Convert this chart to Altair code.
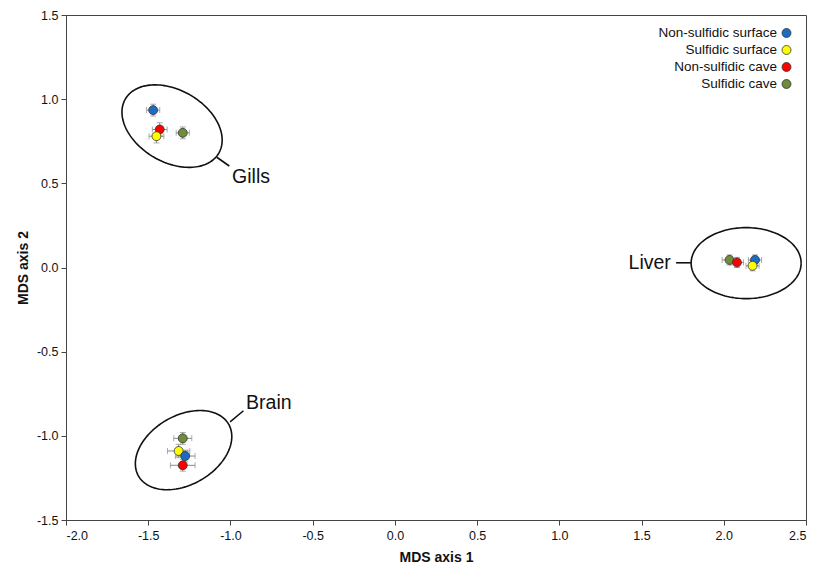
import altair as alt
import numpy as np
import pandas as pd

# ---------------- data ----------------
populations = ["Non-sulfidic surface", "Sulfidic surface", "Non-sulfidic cave", "Sulfidic cave"]
pop_colors = ["#1d6cc3", "#ffff00", "#ff0000", "#6f8c3b"]

tissue = ["Gills"] * 4 + ["Brain"] * 4 + ["Liver"] * 4
population = [
    "Non-sulfidic surface", "Sulfidic cave", "Non-sulfidic cave", "Sulfidic surface",
    "Sulfidic cave", "Sulfidic surface", "Non-sulfidic surface", "Non-sulfidic cave",
    "Sulfidic cave", "Non-sulfidic cave", "Non-sulfidic surface", "Sulfidic surface",
]
mds1 = [-1.47, -1.29, -1.43, -1.45,
        -1.29, -1.315, -1.275, -1.29,
        2.035, 2.08, 2.19, 2.175]
mds2 = [0.935, 0.80, 0.82, 0.78,
        -1.015, -1.09, -1.12, -1.175,
        0.045, 0.03, 0.045, 0.01]
err1 = [0.04, 0.04, 0.045, 0.045,
        0.055, 0.068, 0.06, 0.075,
        0.045, 0.04, 0.04, 0.04]
err2 = [0.035, 0.035, 0.04, 0.04,
        0.035, 0.04, 0.035, 0.035,
        0.03, 0.03, 0.03, 0.03]

# cluster ellipses: centre (data units), semi-axes (px), tilt (deg)
ell_names = ["Gills", "Brain", "Liver"]
ell_cx = [-1.355, -1.285, 2.136]
ell_cy = [0.84, -1.085, 0.026]
ell_a = [54, 52, 55]
ell_b = [36, 34.5, 35.5]
ell_tilt = [-30, 30, 0]

# labels and leader lines
lab_text = ["Gills", "Brain", "Liver"]
lab_x = [-0.99, -0.905, 1.678]
lab_y = [0.537, -0.807, 0.025]
lab_side = ["left", "left", "right"]
lead_x = [-1.083, -1.002, 1.71]
lead_y = [0.655, -0.917, 0.028]
lead_x2 = [-1.007, -0.921, 1.80]
lead_y2 = [0.603, -0.851, 0.028]

x_ticks = [-2.0, -1.5, -1.0, -0.5, 0.0, 0.5, 1.0, 1.5, 2.0, 2.5]
y_ticks = [-1.5, -1.0, -0.5, 0.0, 0.5, 1.0, 1.5]

# ---------------- layout ----------------
W, H = 740, 505
X_DOM, Y_DOM = [-2.0, 2.5], [-1.5, 1.5]
KX = W / (X_DOM[1] - X_DOM[0])
KY = H / (Y_DOM[1] - Y_DOM[0])
FONT = "Liberation Sans"

df = pd.DataFrame({"tissue": tissue, "population": population, "x": mds1, "y": mds2,
                   "ex": err1, "ey": err2})
df["xlo"] = df["x"] - df["ex"]
df["xhi"] = df["x"] + df["ex"]
df["ylo"] = df["y"] - df["ey"]
df["yhi"] = df["y"] + df["ey"]
df["ord"] = range(len(df))

rows = []
t = np.linspace(0, 2 * np.pi, 145)
for n, cx, cy, a, b, th in zip(ell_names, ell_cx, ell_cy, ell_a, ell_b, ell_tilt):
    r = np.deg2rad(th)
    dx = a * np.cos(t) * np.cos(r) - b * np.sin(t) * np.sin(r)
    dy = a * np.cos(t) * np.sin(r) + b * np.sin(t) * np.cos(r)
    for i, (u, v) in enumerate(zip(cx + dx / KX, cy + dy / KY)):
        rows.append({"name": n, "i": i, "x": float(u), "y": float(v)})
ell_df = pd.DataFrame(rows)

lab_df = pd.DataFrame({"text": lab_text, "x": lab_x, "y": lab_y, "side": lab_side})
lead_df = pd.DataFrame({"x": lead_x, "y": lead_y, "x2": lead_x2, "y2": lead_y2})
leg_df = pd.DataFrame({"population": populations})

xs = alt.Scale(domain=X_DOM, nice=False, zero=False)
ys = alt.Scale(domain=Y_DOM, nice=False, zero=False)
cs = alt.Scale(domain=populations, range=pop_colors)

LBL = "replace(format(datum.value, '.1f'), '\u2212', '-')"
xaxis = alt.Axis(values=x_ticks, labelExpr=LBL, title="MDS axis 1", grid=False,
                 tickSize=5, labelPadding=4, titlePadding=9)
yaxis = alt.Axis(values=y_ticks, labelExpr=LBL, title="MDS axis 2", grid=False,
                 tickSize=5, labelPadding=3, titlePadding=6)


def X(f):
    return alt.X(f, scale=xs, axis=xaxis)


def Y(f):
    return alt.Y(f, scale=ys, axis=yaxis)


ERR = "#8a8a8a"

ellipses = alt.Chart(ell_df).mark_line(color="#111", strokeWidth=1.6).encode(
    x=X("x:Q"), y=Y("y:Q"), detail="name:N", order="i:Q",
)

leaders = alt.Chart(lead_df).mark_rule(color="#111", strokeWidth=1.6).encode(
    x=X("x:Q"), y=Y("y:Q"), x2="x2:Q", y2="y2:Q",
)

labels_left = alt.Chart(lab_df[lab_df["side"] == "left"]).mark_text(
    align="left", baseline="middle", fontSize=19.5, font=FONT, color="#111"
).encode(x=X("x:Q"), y=Y("y:Q"), text="text:N")

labels_right = alt.Chart(lab_df[lab_df["side"] == "right"]).mark_text(
    align="right", baseline="middle", fontSize=19.5, font=FONT, color="#111"
).encode(x=X("x:Q"), y=Y("y:Q"), text="text:N")

base = alt.Chart(df)
hbar = base.mark_rule(color=ERR, strokeWidth=1).encode(x=X("xlo:Q"), x2="xhi:Q", y=Y("y:Q"))
vbar = base.mark_rule(color=ERR, strokeWidth=1).encode(x=X("x:Q"), y=Y("ylo:Q"), y2="yhi:Q")
cap_l = base.mark_tick(color=ERR, orient="vertical", size=6, thickness=1).encode(
    x=X("xlo:Q"), y=Y("y:Q"))
cap_r = base.mark_tick(color=ERR, orient="vertical", size=6, thickness=1).encode(
    x=X("xhi:Q"), y=Y("y:Q"))
cap_b = base.mark_tick(color=ERR, orient="horizontal", size=6, thickness=1).encode(
    x=X("x:Q"), y=Y("ylo:Q"))
cap_t = base.mark_tick(color=ERR, orient="horizontal", size=6, thickness=1).encode(
    x=X("x:Q"), y=Y("yhi:Q"))

points = base.mark_point(shape="circle", filled=True, size=80, opacity=1,
                         stroke="#333", strokeWidth=0.8).encode(
    x=X("x:Q"), y=Y("y:Q"),
    color=alt.Color("population:N", scale=cs, legend=None),
    order="ord:Q",
)

main = alt.layer(ellipses, leaders, labels_left, labels_right,
                 hbar, vbar, cap_l, cap_r, cap_b, cap_t, points)

leg_y = alt.Y("population:N", sort=populations, axis=None,
              scale=alt.Scale(type="point", range=[18, 69], padding=0))
leg_pts = alt.Chart(leg_df).mark_point(shape="circle", filled=True, size=80, opacity=1,
                                       stroke="#333", strokeWidth=0.8).encode(
    x=alt.value(720.5), y=leg_y,
    color=alt.Color("population:N", scale=cs, legend=None),
)
leg_txt = alt.Chart(leg_df).mark_text(align="right", baseline="middle", fontSize=13.5,
                                      font=FONT, color="#111").encode(
    x=alt.value(711), y=leg_y, text="population:N",
)
legend = alt.layer(leg_pts, leg_txt)

chart = alt.layer(main, legend).resolve_scale(y="independent").properties(
    width=W, height=H,
    background="white",
    autosize=alt.AutoSizeParams(type="none"),
    padding={"left": 66, "top": 15, "right": 10, "bottom": 53},
).configure(font=FONT).configure_view(
    stroke="#444", strokeWidth=1
).configure_axis(
    domainColor="#444", tickColor="#444", labelColor="#111", titleColor="#111",
    labelFont=FONT, titleFont=FONT, labelFontSize=12.5, titleFontSize=14,
    titleFontWeight="bold",
)

chart.save("out.html", embed_options={"renderer": "svg", "actions": False})
